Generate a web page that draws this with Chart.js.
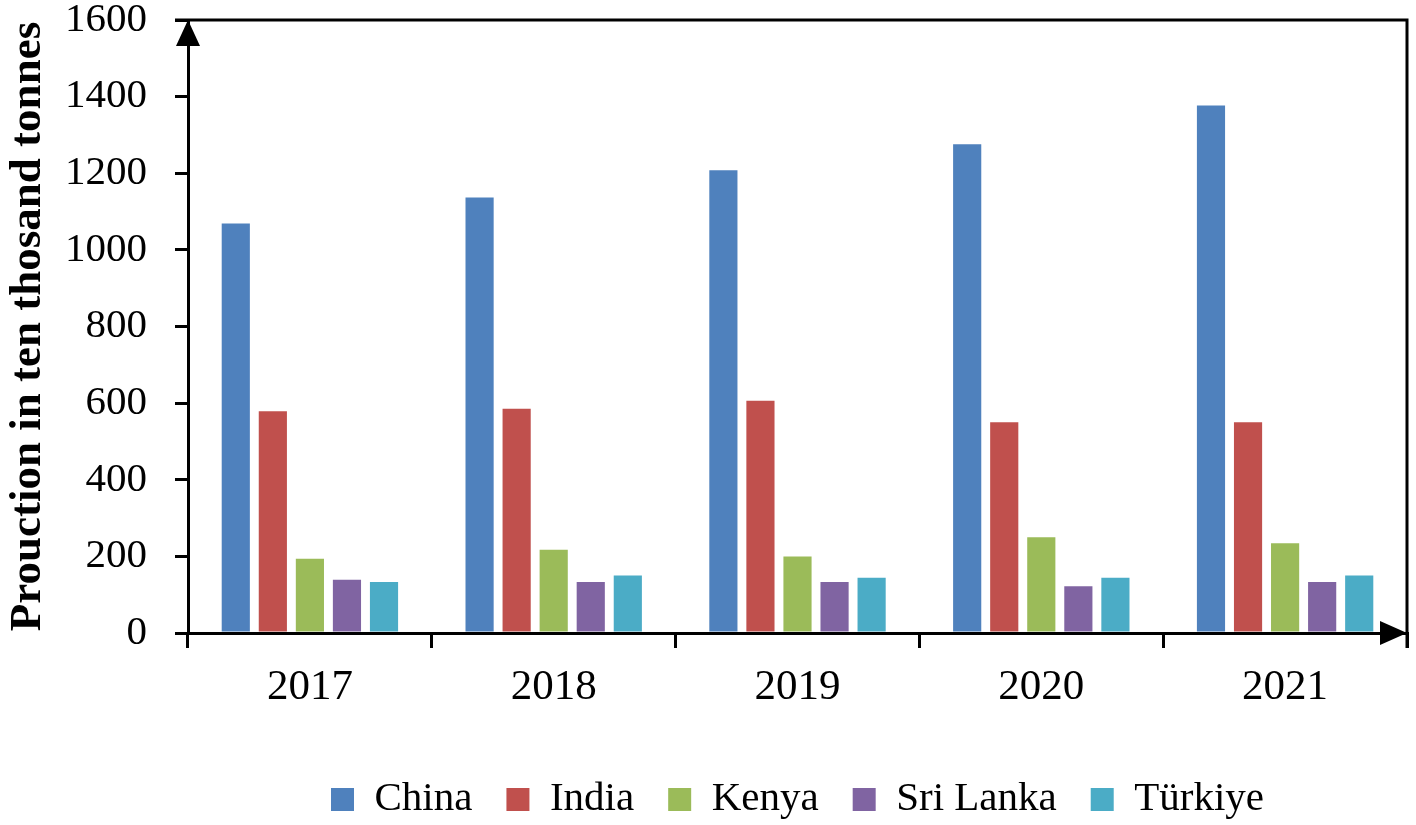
<!DOCTYPE html>
<html>
<head>
<meta charset="utf-8">
<script src="https://cdn.jsdelivr.net/npm/chart.js@4.4.0/dist/chart.umd.min.js"></script>
<style>
  html, body { margin: 0; padding: 0; background: #fff; }
  #wrap { width: 1416px; height: 825px; }
</style>
</head>
<body>
<div id="wrap"><canvas id="bar-chartTe"></canvas></div>
<script>
// datos (diez mil toneladas)
var years = ["2017", "2018", "2019", "2020", "2021"];
var china = [1069, 1137, 1208, 1276, 1377];
var india = [579, 585, 606, 550, 550];
var kenya = [194, 217, 200, 250, 234];
var sriLanka = [139, 133, 133, 122, 133];
var turkiye = [133, 150, 144, 144, 150];
var yTicks = [0, 200, 400, 600, 800, 1000, 1200, 1400, 1600];

var fuente = "'Liberation Serif', 'Times New Roman', serif";

// marco superior/derecho y flechas de los ejes
var marcoEjes = {
    id: 'marcoEjes',
    afterDraw: function(chart) {
        var ctx = chart.ctx;
        var a = chart.chartArea;
        ctx.save();
        ctx.strokeStyle = '#000';
        ctx.fillStyle = '#000';
        ctx.lineWidth = 3;
        ctx.beginPath();
        ctx.moveTo(a.left - 13, a.top);
        ctx.lineTo(a.right, a.top);
        ctx.lineTo(a.right, a.bottom + 15);
        ctx.stroke();
        // flecha eje y
        ctx.beginPath();
        ctx.moveTo(a.left, a.top);
        ctx.lineTo(a.left - 12, a.top + 26);
        ctx.lineTo(a.left + 12, a.top + 26);
        ctx.closePath();
        ctx.fill();
        // flecha eje x
        ctx.beginPath();
        ctx.moveTo(a.right, a.bottom);
        ctx.lineTo(a.right - 27, a.bottom - 12);
        ctx.lineTo(a.right - 27, a.bottom + 12);
        ctx.closePath();
        ctx.fill();
        ctx.restore();
    }
};

new Chart(document.getElementById("bar-chartTe"), {
    type: 'bar',
    data: {
        labels: years,
        datasets: [
            { label: "China", backgroundColor: "#4F81BD", data: china },
            { label: "India", backgroundColor: "#C0504D", data: india },
            { label: "Kenya", backgroundColor: "#9BBB59", data: kenya },
            { label: "Sri Lanka", backgroundColor: "#8064A2", data: sriLanka },
            { label: "Türkiye", backgroundColor: "#4BACC6", data: turkiye }
        ]
    },
    options: {
        responsive: true,
        maintainAspectRatio: false,
        animation: false,
        devicePixelRatio: 1,
        datasets: {
            bar: { categoryPercentage: 0.76, barPercentage: 0.76 }
        },
        layout: { padding: { top: 20, right: 9, left: 0, bottom: -5 } },
        plugins: {
            tooltip: { enabled: false },
            legend: {
                position: 'bottom',
                fullSize: false,
                labels: {
                    font: { family: fuente, size: 41 },
                    color: '#000',
                    boxWidth: 23,
                    boxHeight: 23,
                    padding: 34
                }
            }
        },
        scales: {
            x: {
                grid: { drawOnChartArea: false, tickLength: 15, color: '#000', lineWidth: 3 },
                border: { display: true, color: '#000', width: 3 },
                ticks: { font: { family: fuente, size: 43 }, color: '#000', padding: 14 },
                afterFit: function(scale) { scale.height = 112; }
            },
            y: {
                min: 0,
                max: 1600,
                afterBuildTicks: function(scale) {
                    scale.ticks = yTicks.map(function(v) { return { value: v }; });
                },
                grid: { drawOnChartArea: false, tickLength: 13, color: '#000', lineWidth: 3 },
                border: { display: true, color: '#000', width: 3 },
                ticks: {
                    font: { family: fuente, size: 41, lineHeight: 1 },
                    color: '#000',
                    padding: 28,
                    callback: function(value) { return String(value); }
                },
                title: {
                    display: true,
                    text: 'Prouction in ten thosand tonnes',
                    font: { family: fuente, size: 45, weight: 'bold' },
                    color: '#000',
                    padding: { top: 1, bottom: 0 }
                },
                afterFit: function(scale) {
                    scale.width = 188;
                    scale.paddingTop = 0;
                    scale.paddingBottom = 0;
                }
            }
        }
    },
    plugins: [marcoEjes]
});
</script>
</body>
</html>
